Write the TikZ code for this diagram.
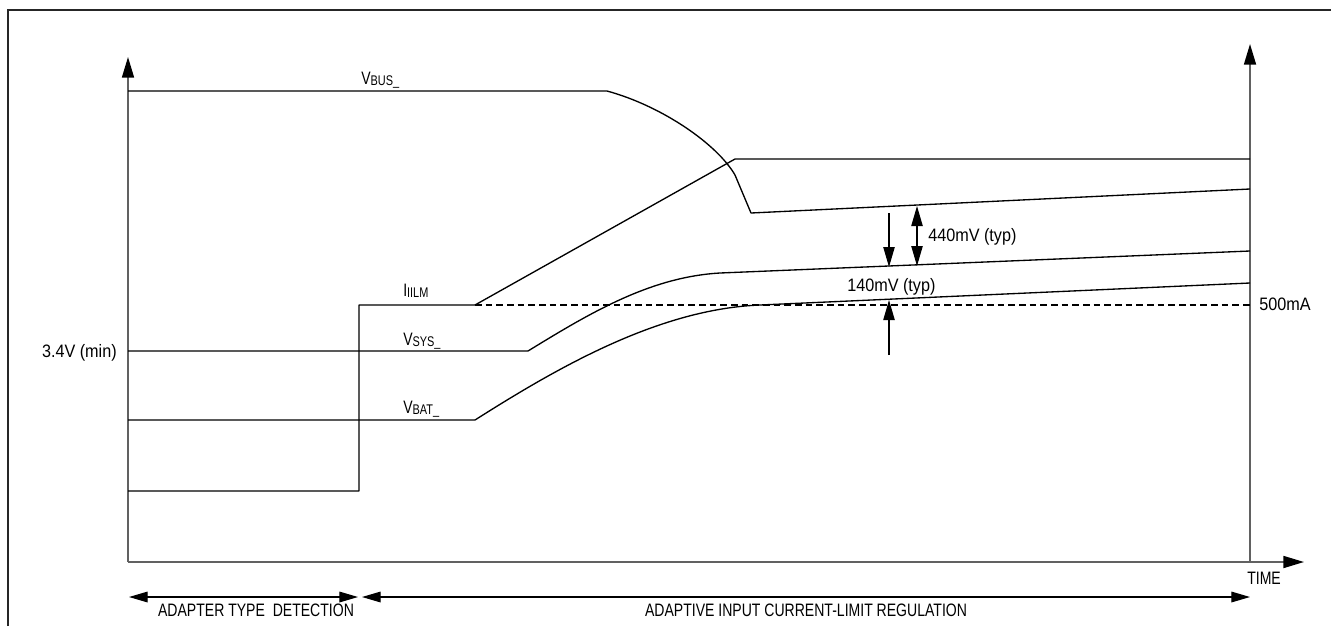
\documentclass[tikz,border=0pt]{standalone}
\usepackage{fontspec}
\setmainfont{Liberation Sans}[FakeStretch=0.78]
\newfontfamily\numfont{Liberation Sans}[FakeStretch=0.9]
\usetikzlibrary{arrows.meta}
\definecolor{axisgray}{gray}{0.38}
\newcommand{\subs}[1]{\raisebox{-1.2pt}{\fontsize{10.5}{11}\selectfont #1}}
\begin{document}
\begin{tikzpicture}[x=0.75pt,y=-0.75pt,
  ax/.style={draw=axisgray,line width=1.3pt},
  axtip/.style={-{Triangle[length=15.5pt,width=9pt,color=black]}},
  curve/.style={draw=black,line width=1pt,line join=round},
  dash line/.style={draw=black,line width=0.8pt,dash pattern=on 5pt off 3pt},
  meas/.style={draw=black,line width=0.9pt},
  mtip/.style={-{Triangle[length=15pt,width=8.5pt]}},
  mtips/.style={{Triangle[length=15pt,width=8.5pt]}-{Triangle[length=15pt,width=8.5pt]}},
  btips/.style={{Triangle[length=14pt,width=8pt]}-{Triangle[length=14pt,width=8pt]}},
  lbl/.style={inner sep=0pt,font=\fontsize{13.5}{15}\selectfont},
  nlbl/.style={inner sep=0pt,font=\numfont\fontsize{13.5}{15}\selectfont},
  frame/.style={draw=black!85,line width=1.5pt}]
\useasboundingbox (0,0) rectangle (1331,626);
% frame
\coordinate (fA) at (8,626);
\coordinate (fB) at (8,10);
\coordinate (fC) at (1331,10);
\draw[frame] (fA) -- (fB) -- (fC);
% axes
\coordinate (O) at (128,562);
\coordinate (Ytop) at (128,57);
\coordinate (Xend) at (1304,562);
\coordinate (R0) at (1250,562);
\coordinate (Rtop) at (1250,44);
\draw[ax,axtip] (O) -- (Ytop);
\draw[ax,axtip] (O) -- (Xend);
\draw[ax,axtip] (R0) -- (Rtop);
% VBUS
\coordinate (vb0) at (128,91);
\coordinate (vb1) at (607,91);
\coordinate (vb2) at (735,175);
\coordinate (vb3) at (751,213);
\coordinate (vb4) at (1250,189);
\draw[curve] (vb0) -- (vb1) .. controls (662,106) and (717,144) .. (vb2) -- (vb3) -- (vb4);
% IILM
\coordinate (il0) at (128,491);
\coordinate (il1) at (359,491);
\coordinate (il2) at (359,305);
\coordinate (il3) at (475,305);
\coordinate (il4) at (735,159);
\coordinate (il5) at (1250,159);
\coordinate (il6) at (1250,305);
\draw[curve] (il0) -- (il1) -- (il2) -- (il3) -- (il4) -- (il5);
\draw[dash line] (il3) -- (il6);
% VSYS
\coordinate (vs0) at (128,351);
\coordinate (vs1) at (528,351);
\coordinate (vs2) at (720,273);
\coordinate (vs3) at (1250,251);
\draw[curve] (vs0) -- (vs1) .. controls (590,313) and (650,277) .. (vs2) -- (vs3);
% VBAT
\coordinate (bt0) at (128,420);
\coordinate (bt1) at (475,420);
\coordinate (bt2) at (760,305);
\coordinate (bt3) at (1250,283);
\draw[curve] (bt0) -- (bt1) .. controls (560,366) and (660,309) .. (bt2) -- (bt3);
% measurement arrows
\coordinate (m1a) at (889,213);
\coordinate (m1b) at (889,267);
\coordinate (m2a) at (917,206);
\coordinate (m2b) at (917,266);
\coordinate (m3a) at (889,355);
\coordinate (m3b) at (889,300);
\draw[meas,mtip] (m1a) -- (m1b);
\draw[meas,mtips] (m2a) -- (m2b);
\draw[meas,mtip] (m3a) -- (m3b);
% bottom arrows
\coordinate (b1a) at (129,597);
\coordinate (b1b) at (358,597);
\coordinate (b2a) at (362,597);
\coordinate (b2b) at (1250,597);
\draw[meas,btips] (b1a) -- (b1b);
\draw[meas,btips] (b2a) -- (b2b);
% labels
\node[lbl,anchor=base west] (lvbus) at (361,84) {V\subs{BUS\_}};
\node[lbl,anchor=base west] (liilm) at (403,296) {I\subs{IILM}};
\node[lbl,anchor=base west] (lvsys) at (403,345) {V\subs{SYS\_}};
\node[lbl,anchor=base west] (lvbat) at (403,413) {V\subs{BAT\_}};
\node[nlbl,anchor=base east] (lmin) at (117,357) {3.4V (min)};
\node[nlbl,anchor=base west] (l500) at (1259,310) {500mA};
\node[nlbl,anchor=base west] (l440) at (928,241) {440mV (typ)};
\node[nlbl,anchor=base west] (l140) at (847,291) {140mV (typ)};
\node[lbl,anchor=base west] (ltime) at (1247,584) {TIME};
\node[lbl,anchor=base] (ladt) at (256,616) {ADAPTER TYPE\ \ DETECTION};
\node[lbl,anchor=base] (laicl) at (806,616) {ADAPTIVE INPUT CURRENT-LIMIT REGULATION};
\end{tikzpicture}
\end{document}
